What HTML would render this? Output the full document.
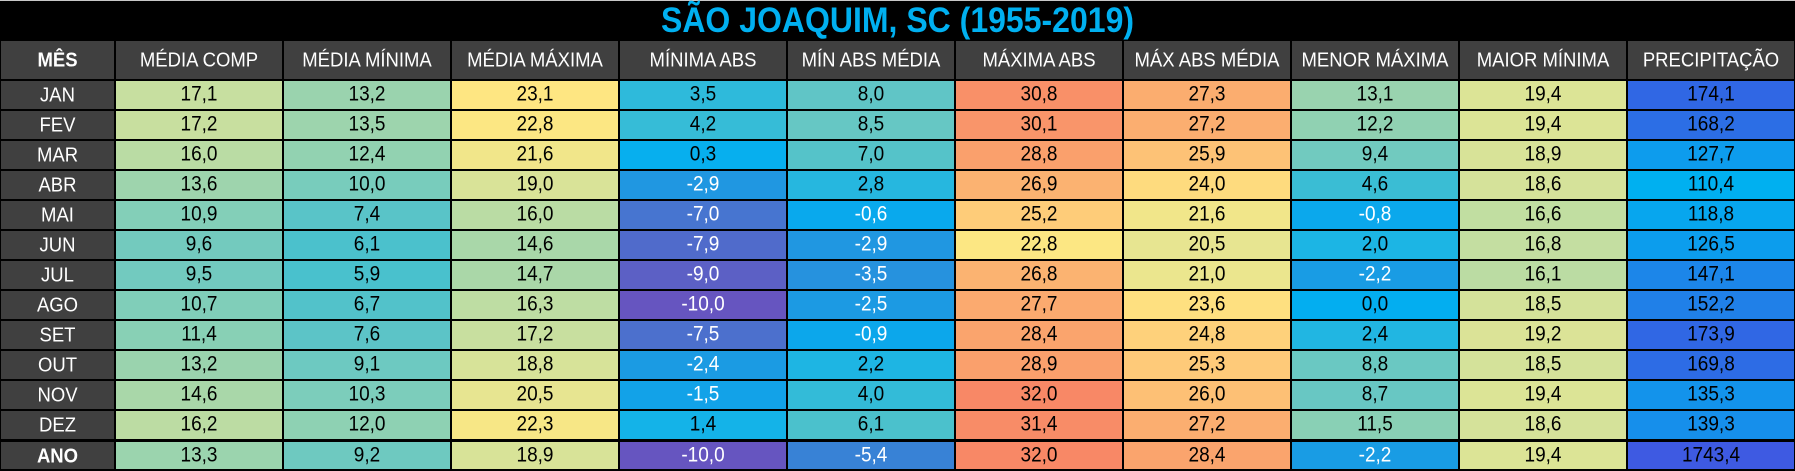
<!DOCTYPE html>
<html><head><meta charset="utf-8"><style>
html,body{margin:0;padding:0;background:#000;}
#w{position:relative;width:1795px;height:471px;background:#000;overflow:hidden;font-family:"Liberation Sans",sans-serif;}
.c{position:absolute;display:flex;align-items:center;justify-content:center;font-size:19px;color:#000;white-space:nowrap;}
.c span{display:inline-block;transform:scaleY(1.12);}
.h{background:#404040;color:#fff;font-size:18.5px;}
#t{position:absolute;left:0;top:0;width:1795px;height:40px;border-top:1px solid #c8c8c8;box-sizing:border-box;display:flex;align-items:center;justify-content:center;color:#00b0f0;font-weight:bold;font-size:32px;}
#t span{display:inline-block;transform:scaleY(1.1);}
</style></head><body><div id="w"><div id="t"><span>SÃO JOAQUIM, SC (1955-2019)</span></div></div>
<script>
var W=document.getElementById('w');
var xs=[0,115];for(var i=1;i<=10;i++)xs.push(115+168*i);
var heads=["MÊS","MÉDIA COMP","MÉDIA MÍNIMA","MÉDIA MÁXIMA","MÍNIMA ABS","MÍN ABS MÉDIA","MÁXIMA ABS","MÁX ABS MÉDIA","MENOR MÁXIMA","MAIOR MÍNIMA","PRECIPITAÇÃO"];
var rows=[
["JAN",17.1,13.2,23.1,3.5,8.0,30.8,27.3,13.1,19.4,174.1],
["FEV",17.2,13.5,22.8,4.2,8.5,30.1,27.2,12.2,19.4,168.2],
["MAR",16.0,12.4,21.6,0.3,7.0,28.8,25.9,9.4,18.9,127.7],
["ABR",13.6,10.0,19.0,-2.9,2.8,26.9,24.0,4.6,18.6,110.4],
["MAI",10.9,7.4,16.0,-7.0,-0.6,25.2,21.6,-0.8,16.6,118.8],
["JUN",9.6,6.1,14.6,-7.9,-2.9,22.8,20.5,2.0,16.8,126.5],
["JUL",9.5,5.9,14.7,-9.0,-3.5,26.8,21.0,-2.2,16.1,147.1],
["AGO",10.7,6.7,16.3,-10.0,-2.5,27.7,23.6,0.0,18.5,152.2],
["SET",11.4,7.6,17.2,-7.5,-0.9,28.4,24.8,2.4,19.2,173.9],
["OUT",13.2,9.1,18.8,-2.4,2.2,28.9,25.3,8.8,18.5,169.8],
["NOV",14.6,10.3,20.5,-1.5,4.0,32.0,26.0,8.7,19.4,135.3],
["DEZ",16.2,12.0,22.3,1.4,6.1,31.4,27.2,11.5,18.6,139.3],
["ANO",13.3,9.2,18.9,-10.0,-5.4,32.0,28.4,-2.2,19.4,1743.4]];
var st=[[-10,"6655c0"],[-7,"4775d0"],[-3,"2196e0"],[0,"03aef0"],[3,"28b8de"],[6,"4ac1cc"],[8,"60c5c6"],[11,"84cfb7"],[14,"a2d5ab"],[17,"c6dfa0"],[20,"e2e594"],[23,"fee782"],[25.5,"fec878"],[27,"fbb070"],[30,"f9966a"],[32,"f88866"]];
function hx(h){return [parseInt(h.substr(0,2),16),parseInt(h.substr(2,2),16),parseInt(h.substr(4,2),16)];}
function mix(a,b,f){a=hx(a);b=hx(b);return "rgb("+a.map(function(v,i){return Math.round(v+(b[i]-v)*f);}).join(",")+")";}
function tc(v){if(v<=st[0][0])return "#"+st[0][1];for(var i=1;i<st.length;i++){if(v<=st[i][0]){return mix(st[i-1][1],st[i][1],(v-st[i-1][0])/(st[i][0]-st[i-1][0]));}}return "#"+st[st.length-1][1];}
function pc(v){if(v>1000)return "#3e5ae2";var f=Math.max(0,Math.min(1,(v-110)/65));return mix("00b0f0","3166e4",f);}
function cell(x0,x1,y0,y1,txt,bg,cls,col,bold){var d=document.createElement('div');d.className='c'+(cls?' '+cls:'');d.style.left=(x0+1)+'px';d.style.width=(x1-x0-2)+'px';d.style.top=(y0+1)+'px';d.style.height=(y1-y0-2)+'px';if(bg)d.style.background=bg;if(col)d.style.color=col;if(bold)d.style.fontWeight='bold';var s=document.createElement('span');s.textContent=txt;d.appendChild(s);W.appendChild(d);}
for(var j=0;j<11;j++)cell(xs[j],xs[j+1],40,80,heads[j],null,'h',null,j==0);
for(var r=0;r<13;r++){var y0=80+r*30,y1=y0+30;if(r==12){y0+=1;y1=470;}
 var R=rows[r];cell(xs[0],xs[1],y0,y1,R[0],null,'h',null,r==12);
 for(var j=1;j<11;j++){var v=R[j];var s=v.toFixed(1).replace('.',',');
  var bg=j==10?pc(v):tc(v);cell(xs[j],xs[j+1],y0,y1,s,bg,null,v<0?'#fff':'#000',false);}
}
</script></body></html>
